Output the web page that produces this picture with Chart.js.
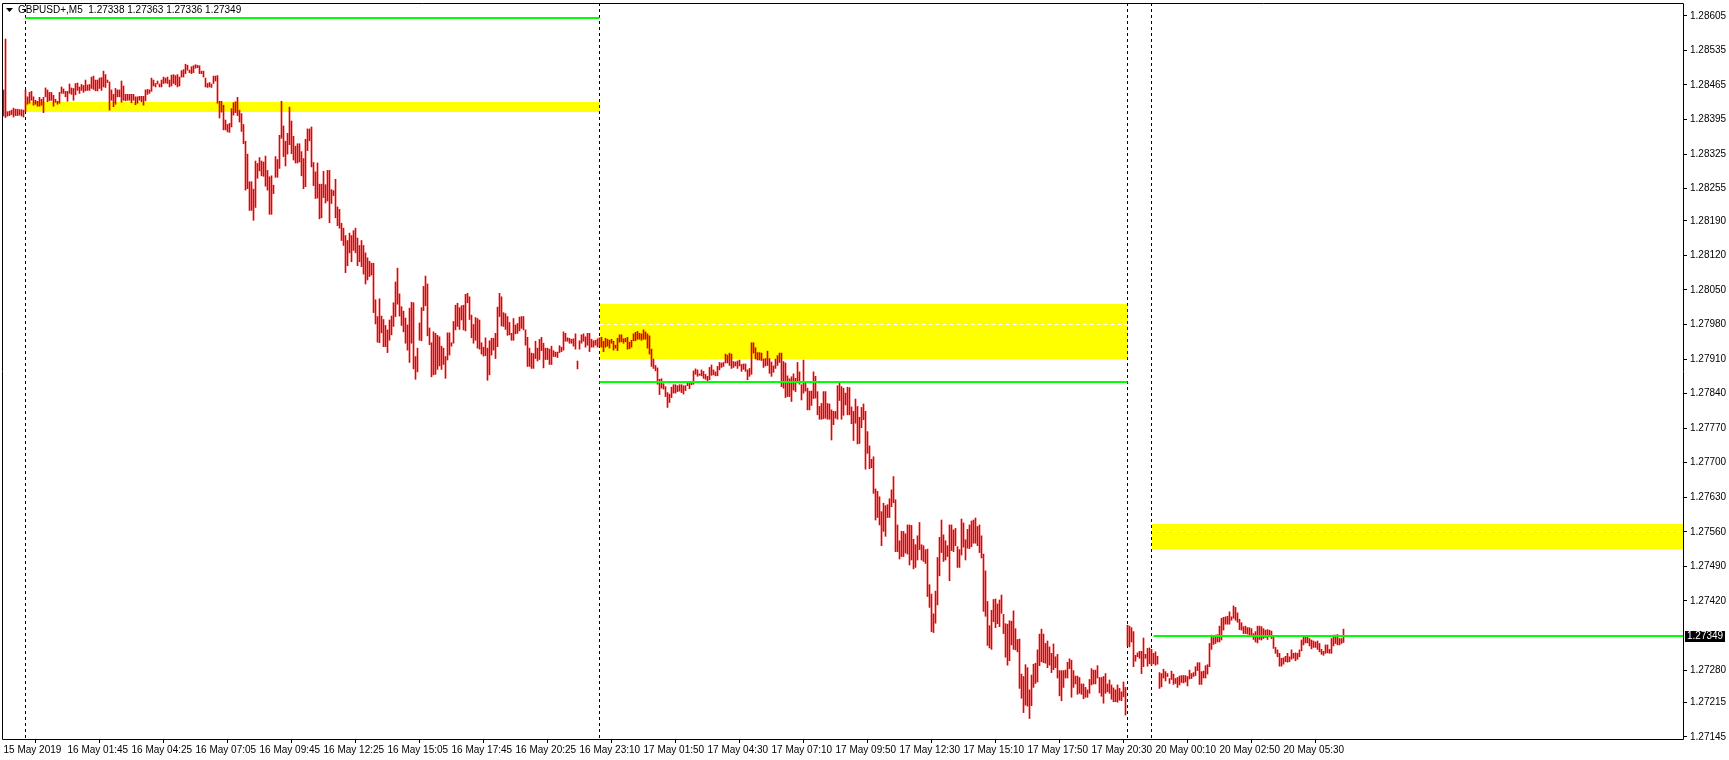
<!DOCTYPE html>
<html>
<head>
<meta charset="utf-8">
<script src="https://cdn.jsdelivr.net/npm/chart.js@4.4.1/dist/chart.umd.min.js"></script>
<style>
html, body { margin: 0; padding: 0; background: #fff; }
canvas { display: block; }
</style>
</head>
<body>
<canvas id="chart" width="1729" height="760"></canvas>
<script>
// GBPUSD+ M5 bars, 15 May 23:05 -> 20 May 08:00 (one entry per bar, high / low)
const symbol = 'GBPUSD+,M5';
const lastOHLC = [1.27338, 1.27363, 1.27336, 1.27349];

const highs = [
1.28455,1.28558,1.28411,1.28412,1.28414,1.28418,1.28416,1.28416,1.28415,1.28415,
1.28414,1.28455,1.28441,1.28450,1.28452,1.28441,1.28434,1.28432,1.28440,1.28436,
1.28440,1.28459,1.28455,1.28450,1.28450,1.28444,1.28436,1.28432,1.28450,1.28461,
1.28457,1.28452,1.28452,1.28467,1.28459,1.28458,1.28468,1.28469,1.28461,1.28466,
1.28464,1.28475,1.28465,1.28466,1.28481,1.28483,1.28475,1.28475,1.28479,1.28480,
1.28493,1.28486,1.28475,1.28471,1.28455,1.28446,1.28458,1.28455,1.28455,1.28473,
1.28463,1.28446,1.28446,1.28446,1.28446,1.28446,1.28441,1.28441,1.28442,1.28442,
1.28442,1.28455,1.28456,1.28455,1.28479,1.28475,1.28468,1.28473,1.28467,1.28475,
1.28481,1.28479,1.28481,1.28475,1.28485,1.28486,1.28484,1.28486,1.28481,1.28494,
1.28496,1.28507,1.28505,1.28495,1.28502,1.28504,1.28506,1.28505,1.28504,1.28493,
1.28493,1.28479,1.28468,1.28470,1.28467,1.28483,1.28483,1.28484,1.28432,1.28432,
1.28424,1.28394,1.28385,1.28387,1.28417,1.28429,1.28431,1.28440,1.28414,1.28407,
1.28385,1.28351,1.28325,1.28269,1.28269,1.28254,1.28311,1.28306,1.28318,1.28311,
1.28309,1.28321,1.28292,1.28279,1.28281,1.28262,1.28320,1.28314,1.28363,1.28432,
1.28382,1.28351,1.28367,1.28420,1.28392,1.28361,1.28341,1.28346,1.28346,1.28330,
1.28316,1.28355,1.28376,1.28376,1.28380,1.28308,1.28289,1.28307,1.28264,1.28264,
1.28290,1.28263,1.28292,1.28292,1.28253,1.28251,1.28274,1.28218,1.28213,1.28185,
1.28175,1.28160,1.28150,1.28165,1.28160,1.28170,1.28175,1.28155,1.28140,1.28150,
1.28140,1.28125,1.28115,1.28108,1.28104,1.28104,1.28030,1.27996,1.28032,1.27997,
1.27990,1.27978,1.27969,1.27989,1.27997,1.28024,1.28066,1.28094,1.28042,1.28016,
1.28007,1.27993,1.27979,1.28013,1.28025,1.28024,1.27915,1.27932,1.27983,1.28014,
1.28057,1.28078,1.28062,1.27973,1.27943,1.27965,1.27962,1.27958,1.27955,1.27936,
1.27932,1.27915,1.27963,1.27963,1.27943,1.27986,1.28019,1.28023,1.28014,1.28018,
1.28019,1.28041,1.28043,1.28036,1.27999,1.27980,1.27994,1.27992,1.27989,1.27943,
1.27934,1.27953,1.27932,1.27947,1.27952,1.27952,1.27962,1.28015,1.28043,1.28036,
1.28004,1.28002,1.27996,1.27984,1.27962,1.27992,1.27979,1.27982,1.27995,1.27996,
1.27996,1.27969,1.27954,1.27932,1.27922,1.27921,1.27946,1.27932,1.27950,1.27954,
1.27942,1.27932,1.27932,1.27930,1.27936,1.27927,1.27924,1.27924,1.27937,1.27934,
1.27965,1.27962,1.27953,1.27952,1.27950,1.27951,1.27961,1.27906,1.27947,1.27959,
1.27961,1.27955,1.27962,1.27962,1.27950,1.27947,1.27948,1.27951,1.27953,1.27954,
1.27946,1.27952,1.27950,1.27948,1.27950,1.27946,1.27938,1.27952,1.27959,1.27959,
1.27951,1.27952,1.27954,1.27944,1.27948,1.27961,1.27964,1.27966,1.27962,1.27961,
1.27969,1.27965,1.27961,1.27957,1.27930,1.27910,1.27897,1.27892,1.27869,1.27870,
1.27860,1.27854,1.27842,1.27839,1.27853,1.27858,1.27858,1.27856,1.27858,1.27858,
1.27856,1.27856,1.27861,1.27864,1.27864,1.27886,1.27890,1.27888,1.27880,1.27888,
1.27885,1.27879,1.27875,1.27893,1.27898,1.27888,1.27884,1.27895,1.27903,1.27902,
1.27903,1.27920,1.27918,1.27922,1.27920,1.27905,1.27904,1.27906,1.27908,1.27899,
1.27900,1.27900,1.27888,1.27891,1.27943,1.27943,1.27933,1.27923,1.27923,1.27922,
1.27910,1.27911,1.27926,1.27911,1.27904,1.27896,1.27910,1.27917,1.27922,1.27922,
1.27905,1.27902,1.27876,1.27870,1.27874,1.27880,1.27871,1.27903,1.27884,1.27858,
1.27908,1.27864,1.27851,1.27845,1.27845,1.27884,1.27875,1.27844,1.27814,1.27820,
1.27844,1.27844,1.27820,1.27819,1.27807,1.27804,1.27804,1.27856,1.27863,1.27854,
1.27851,1.27841,1.27853,1.27852,1.27813,1.27804,1.27829,1.27814,1.27792,1.27812,
1.27819,1.27804,1.27763,1.27734,1.27707,1.27712,1.27647,1.27642,1.27631,1.27601,
1.27618,1.27613,1.27615,1.27627,1.27645,1.27672,1.27625,1.27574,1.27542,1.27561,
1.27561,1.27556,1.27574,1.27574,1.27573,1.27545,1.27534,1.27552,1.27579,1.27534,
1.27532,1.27524,1.27525,1.27453,1.27434,1.27394,1.27440,1.27508,1.27549,1.27584,
1.27554,1.27542,1.27532,1.27574,1.27574,1.27564,1.27567,1.27530,1.27524,1.27586,
1.27578,1.27544,1.27565,1.27574,1.27582,1.27584,1.27588,1.27571,1.27574,1.27552,
1.27515,1.27481,1.27419,1.27370,1.27401,1.27423,1.27424,1.27414,1.27422,1.27432,
1.27393,1.27374,1.27373,1.27380,1.27379,1.27400,1.27364,1.27342,1.27343,1.27272,
1.27267,1.27291,1.27285,1.27240,1.27270,1.27292,1.27294,1.27321,1.27353,1.27363,
1.27353,1.27334,1.27339,1.27327,1.27314,1.27333,1.27307,1.27312,1.27279,1.27279,
1.27279,1.27280,1.27296,1.27303,1.27300,1.27279,1.27268,1.27268,1.27265,1.27252,
1.27252,1.27245,1.27240,1.27261,1.27283,1.27280,1.27280,1.27289,1.27265,1.27265,
1.27267,1.27273,1.27252,1.27260,1.27250,1.27244,1.27240,1.27250,1.27243,1.27236,
1.27256,1.27245,1.27371,1.27369,1.27366,1.27358,1.27310,1.27315,1.27318,1.27318,
1.27345,1.27312,1.27324,1.27325,1.27322,1.27314,1.27317,1.27308,1.27275,1.27273,
1.27282,1.27277,1.27273,1.27263,1.27278,1.27272,1.27263,1.27265,1.27268,1.27269,
1.27269,1.27269,1.27267,1.27280,1.27273,1.27275,1.27287,1.27295,1.27295,1.27277,
1.27278,1.27289,1.27291,1.27334,1.27351,1.27346,1.27351,1.27352,1.27369,1.27385,
1.27387,1.27388,1.27389,1.27398,1.27388,1.27410,1.27407,1.27396,1.27383,1.27376,
1.27368,1.27369,1.27366,1.27366,1.27364,1.27354,1.27358,1.27369,1.27369,1.27368,
1.27364,1.27361,1.27362,1.27361,1.27359,1.27348,1.27326,1.27321,1.27314,1.27304,
1.27305,1.27308,1.27314,1.27307,1.27321,1.27314,1.27315,1.27314,1.27321,1.27341,
1.27348,1.27349,1.27349,1.27344,1.27341,1.27339,1.27337,1.27339,1.27334,1.27322,
1.27318,1.27331,1.27331,1.27322,1.27344,1.27351,1.27351,1.27352,1.27344,1.27344,
1.27363
];

const lows = [
1.28402,1.28399,1.28402,1.28403,1.28405,1.28400,1.28403,1.28403,1.28404,1.28402,
1.28400,1.28411,1.28426,1.28428,1.28434,1.28424,1.28426,1.28422,1.28422,1.28424,
1.28409,1.28441,1.28431,1.28433,1.28434,1.28422,1.28430,1.28426,1.28428,1.28448,
1.28448,1.28441,1.28432,1.28448,1.28446,1.28434,1.28445,1.28454,1.28448,1.28454,
1.28450,1.28453,1.28454,1.28454,1.28458,1.28456,1.28453,1.28453,1.28458,1.28454,
1.28461,1.28460,1.28470,1.28414,1.28434,1.28421,1.28426,1.28441,1.28441,1.28430,
1.28434,1.28433,1.28434,1.28434,1.28429,1.28434,1.28425,1.28428,1.28434,1.28431,
1.28424,1.28433,1.28446,1.28448,1.28452,1.28463,1.28461,1.28467,1.28461,1.28461,
1.28468,1.28469,1.28468,1.28461,1.28463,1.28468,1.28465,1.28461,1.28463,1.28481,
1.28481,1.28488,1.28495,1.28490,1.28488,1.28490,1.28499,1.28500,1.28488,1.28488,
1.28481,1.28461,1.28460,1.28461,1.28460,1.28468,1.28473,1.28428,1.28398,1.28410,
1.28374,1.28374,1.28370,1.28369,1.28380,1.28404,1.28409,1.28403,1.28390,1.28371,
1.28346,1.28252,1.28255,1.28211,1.28211,1.28191,1.28217,1.28276,1.28291,1.28281,
1.28280,1.28260,1.28252,1.28203,1.28203,1.28245,1.28278,1.28278,1.28296,1.28357,
1.28320,1.28301,1.28325,1.28344,1.28326,1.28313,1.28307,1.28307,1.28309,1.28281,
1.28255,1.28259,1.28332,1.28352,1.28299,1.28261,1.28235,1.28236,1.28194,1.28196,
1.28237,1.28226,1.28230,1.28186,1.28225,1.28241,1.28196,1.28180,1.28175,1.28150,
1.28140,1.28085,1.28099,1.28125,1.28107,1.28130,1.28125,1.28099,1.28107,1.28097,
1.28082,1.28062,1.28070,1.28077,1.28080,1.28004,1.27981,1.27944,1.27943,1.27963,
1.27935,1.27935,1.27923,1.27948,1.27959,1.27976,1.27996,1.28021,1.27997,1.27978,
1.27965,1.27942,1.27928,1.27903,1.27942,1.27890,1.27869,1.27884,1.27948,1.27947,
1.28008,1.28018,1.27957,1.27939,1.27874,1.27878,1.27879,1.27889,1.27896,1.27889,
1.27899,1.27871,1.27908,1.27918,1.27936,1.27942,1.27969,1.27976,1.27970,1.27989,
1.27969,1.27967,1.28024,1.27990,1.27953,1.27942,1.27948,1.27932,1.27930,1.27920,
1.27916,1.27917,1.27867,1.27878,1.27918,1.27928,1.27911,1.27935,1.27996,1.27977,
1.27976,1.27970,1.27958,1.27959,1.27948,1.27948,1.27961,1.27962,1.27967,1.27972,
1.27969,1.27938,1.27895,1.27895,1.27891,1.27891,1.27911,1.27906,1.27909,1.27927,
1.27892,1.27909,1.27909,1.27899,1.27899,1.27915,1.27915,1.27913,1.27923,1.27925,
1.27928,1.27946,1.27946,1.27942,1.27942,1.27936,1.27930,1.27890,1.27930,1.27942,
1.27946,1.27934,1.27938,1.27925,1.27934,1.27934,1.27938,1.27934,1.27936,1.27934,
1.27925,1.27934,1.27936,1.27932,1.27942,1.27928,1.27932,1.27927,1.27944,1.27945,
1.27942,1.27945,1.27930,1.27931,1.27934,1.27947,1.27947,1.27950,1.27950,1.27948,
1.27950,1.27950,1.27932,1.27920,1.27895,1.27891,1.27886,1.27859,1.27838,1.27851,
1.27849,1.27834,1.27812,1.27822,1.27832,1.27841,1.27841,1.27844,1.27845,1.27842,
1.27839,1.27846,1.27856,1.27850,1.27858,1.27859,1.27879,1.27875,1.27877,1.27876,
1.27871,1.27869,1.27866,1.27868,1.27877,1.27878,1.27876,1.27876,1.27888,1.27893,
1.27895,1.27902,1.27902,1.27897,1.27891,1.27893,1.27896,1.27891,1.27896,1.27885,
1.27889,1.27885,1.27868,1.27875,1.27879,1.27922,1.27910,1.27908,1.27908,1.27907,
1.27893,1.27896,1.27897,1.27881,1.27875,1.27883,1.27891,1.27897,1.27903,1.27854,
1.27851,1.27832,1.27834,1.27834,1.27824,1.27847,1.27844,1.27862,1.27859,1.27827,
1.27841,1.27845,1.27807,1.27807,1.27816,1.27830,1.27831,1.27797,1.27788,1.27788,
1.27789,1.27790,1.27788,1.27788,1.27746,1.27777,1.27790,1.27788,1.27826,1.27788,
1.27796,1.27817,1.27797,1.27797,1.27779,1.27745,1.27780,1.27738,1.27739,1.27771,
1.27787,1.27687,1.27719,1.27688,1.27690,1.27638,1.27584,1.27589,1.27574,1.27532,
1.27561,1.27551,1.27589,1.27589,1.27611,1.27619,1.27520,1.27520,1.27505,1.27510,
1.27510,1.27517,1.27515,1.27493,1.27503,1.27485,1.27488,1.27503,1.27524,1.27503,
1.27500,1.27496,1.27429,1.27407,1.27358,1.27356,1.27375,1.27412,1.27471,1.27518,
1.27500,1.27503,1.27510,1.27461,1.27522,1.27520,1.27532,1.27488,1.27488,1.27513,
1.27529,1.27503,1.27527,1.27526,1.27530,1.27537,1.27537,1.27532,1.27518,1.27507,
1.27399,1.27389,1.27330,1.27325,1.27322,1.27378,1.27366,1.27374,1.27368,1.27395,
1.27354,1.27306,1.27290,1.27299,1.27331,1.27322,1.27321,1.27317,1.27243,1.27223,
1.27194,1.27209,1.27207,1.27182,1.27208,1.27245,1.27253,1.27256,1.27289,1.27297,
1.27295,1.27294,1.27285,1.27290,1.27275,1.27281,1.27285,1.27264,1.27228,1.27218,
1.27245,1.27264,1.27264,1.27283,1.27225,1.27245,1.27252,1.27231,1.27233,1.27231,
1.27222,1.27225,1.27225,1.27233,1.27250,1.27252,1.27252,1.27264,1.27234,1.27227,
1.27213,1.27233,1.27236,1.27233,1.27221,1.27216,1.27216,1.27215,1.27219,1.27218,
1.27226,1.27189,1.27329,1.27327,1.27337,1.27287,1.27298,1.27307,1.27304,1.27273,
1.27287,1.27304,1.27288,1.27293,1.27290,1.27293,1.27290,1.27292,1.27243,1.27246,
1.27264,1.27258,1.27267,1.27253,1.27261,1.27251,1.27253,1.27245,1.27250,1.27255,
1.27254,1.27256,1.27248,1.27262,1.27263,1.27267,1.27269,1.27279,1.27251,1.27251,
1.27264,1.27264,1.27272,1.27287,1.27322,1.27332,1.27334,1.27337,1.27337,1.27341,
1.27361,1.27373,1.27373,1.27373,1.27381,1.27385,1.27381,1.27377,1.27362,1.27361,
1.27354,1.27354,1.27353,1.27349,1.27348,1.27342,1.27337,1.27335,1.27342,1.27341,
1.27344,1.27346,1.27342,1.27348,1.27344,1.27324,1.27314,1.27307,1.27288,1.27288,
1.27292,1.27297,1.27296,1.27297,1.27302,1.27304,1.27299,1.27302,1.27307,1.27319,
1.27331,1.27335,1.27335,1.27329,1.27323,1.27326,1.27326,1.27322,1.27317,1.27312,
1.27310,1.27314,1.27315,1.27314,1.27314,1.27329,1.27334,1.27331,1.27331,1.27334,
1.27336
];

// time axis: bar index of each labelled tick
const timeTickBars = [0, 32, 64, 96, 128, 160, 192, 224, 256, 288, 320, 352, 384, 416, 448, 480, 512, 544, 576, 608, 640];
const timeTickLabels = ['15 May 2019', '16 May 01:45', '16 May 04:25', '16 May 07:05', '16 May 09:45', '16 May 12:25',
  '16 May 15:05', '16 May 17:45', '16 May 20:25', '16 May 23:10', '17 May 01:50', '17 May 04:30', '17 May 07:10',
  '17 May 09:50', '17 May 12:30', '17 May 15:10', '17 May 17:50', '17 May 20:30', '20 May 00:10', '20 May 02:50', '20 May 05:30'];

const priceTicks = [1.28605, 1.28535, 1.28465, 1.28395, 1.28325, 1.28255, 1.28190, 1.28120, 1.28050, 1.27980, 1.27910,
  1.27840, 1.27770, 1.27700, 1.27630, 1.27560, 1.27490, 1.27420, 1.27280, 1.27215, 1.27145];
const priceMin = 1.271405;
const priceMax = 1.28631;

// day separators (first bar of each day)
const daySeparators = [11, 298, 562, 574];

// yellow zones
const zoneStart = [11, 298, 574];
const zoneEnd = [298, 562, 839.75];
const zoneLow = [1.28411, 1.27911, 1.27526];
const zoneHigh = [1.28430, 1.28021, 1.27576];
const zoneMid = [null, 1.27981, 1.27561];

// green horizontal levels
const levelStart = [11, 298, 575];
const levelEnd = [298, 562, 839.75];
const levelPrice = [1.28601, 1.27864, 1.27349];

const FONT = '"Liberation Sans", Arial, sans-serif';

const overlay = {
  id: 'overlay',
  beforeDraw(chart) {
    const ctx = chart.ctx;
    ctx.save();
    ctx.fillStyle = '#fff';
    ctx.fillRect(0, 0, chart.width, chart.height);
    ctx.restore();
  },
  beforeDatasetsDraw(chart) {
    const { ctx, chartArea: a, scales: { x, y } } = chart;
    ctx.save();
    ctx.beginPath();
    ctx.rect(a.left, a.top, a.right - a.left, a.bottom - a.top);
    ctx.clip();
    for (let k = 0; k < zoneStart.length; k++) {
      const x0 = x.getPixelForValue(zoneStart[k]);
      const x1 = x.getPixelForValue(zoneEnd[k]);
      const y0 = y.getPixelForValue(zoneHigh[k]);
      const y1 = y.getPixelForValue(zoneLow[k]);
      ctx.fillStyle = '#ffff00';
      ctx.fillRect(Math.round(x0), Math.round(y0), Math.round(x1) - Math.round(x0), Math.round(y1) - Math.round(y0));
      if (zoneMid[k] !== null) {
        const ym = Math.round(y.getPixelForValue(zoneMid[k])) + 0.5;
        ctx.strokeStyle = '#ffffff';
        ctx.lineWidth = 1;
        ctx.setLineDash([4, 3]);
        ctx.beginPath();
        ctx.moveTo(x0, ym);
        ctx.lineTo(x1, ym);
        ctx.stroke();
      }
    }
    // separators drawn like an XOR pen: black on white, blue on yellow
    ctx.globalCompositeOperation = 'difference';
    ctx.strokeStyle = '#ffffff';
    ctx.lineWidth = 1;
    ctx.setLineDash([3, 3]);
    daySeparators.forEach(b => {
      const px = Math.floor(x.getPixelForValue(b)) + 0.5;
      ctx.beginPath();
      ctx.moveTo(px, a.top);
      ctx.lineTo(px, a.bottom);
      ctx.stroke();
    });
    ctx.restore();
  },
  afterDatasetsDraw(chart) {
    const { ctx, chartArea: a, scales: { x, y } } = chart;
    ctx.save();
    ctx.strokeStyle = '#00ff00';
    ctx.lineWidth = 2;
    for (let k = 0; k < levelPrice.length; k++) {
      const py = Math.round(y.getPixelForValue(levelPrice[k]));
      ctx.beginPath();
      ctx.moveTo(x.getPixelForValue(levelStart[k]), py);
      ctx.lineTo(x.getPixelForValue(levelEnd[k]), py);
      ctx.stroke();
    }
    // frame
    ctx.strokeStyle = '#000';
    ctx.lineWidth = 1;
    ctx.beginPath();
    ctx.moveTo(a.left + 0.5, a.top + 0.5);
    ctx.lineTo(a.right + 0.5, a.top + 0.5);
    ctx.lineTo(a.right + 0.5, a.bottom + 0.5);
    ctx.lineTo(a.left + 0.5, a.bottom + 0.5);
    ctx.closePath();
    ctx.stroke();
    ctx.restore();
  },
  afterDraw(chart) {
    const { ctx, chartArea: a, scales: { y } } = chart;
    ctx.save();
    // header
    ctx.fillStyle = '#000';
    ctx.beginPath();
    ctx.moveTo(6, 8);
    ctx.lineTo(13, 8);
    ctx.lineTo(9.5, 12);
    ctx.closePath();
    ctx.fill();
    ctx.font = '10px ' + FONT;
    ctx.textBaseline = 'middle';
    ctx.textAlign = 'left';
    ctx.fillText(symbol + '  ' + lastOHLC.map(v => v.toFixed(5)).join(' '), 18, 10.5);
    // current price tag
    const py = Math.round(y.getPixelForValue(lastOHLC[3]));
    ctx.fillStyle = '#000';
    ctx.fillRect(a.right + 2, py - 5, 40, 11);
    ctx.fillStyle = '#fff';
    ctx.fillText(lastOHLC[3].toFixed(5), a.right + 4, py + 0.5);
    ctx.restore();
  }
};

function noPad(s) {
  s.paddingTop = 0;
  s.paddingBottom = 0;
  s.paddingLeft = 0;
  s.paddingRight = 0;
}

const ctx = document.getElementById('chart').getContext('2d');
const chart = new Chart(ctx, {
  type: 'bar',
  data: {
    datasets: [{
      data: highs.map((h, i) => ({ x: i, y: [lows[i], h] })),
      backgroundColor: '#e60000',
      borderWidth: 0,
      barThickness: 1,
      grouped: false
    }]
  },
  options: {
    responsive: false,
    animation: false,
    devicePixelRatio: 1,
    layout: { padding: { left: 2, top: 3, right: 0, bottom: 0 } },
    plugins: { legend: { display: false }, tooltip: { enabled: false } },
    scales: {
      x: {
        type: 'linear',
        position: 'bottom',
        min: -0.75,
        max: 839.75,
        offset: false,
        border: { display: false },
        grid: { drawOnChartArea: false, drawTicks: true, tickLength: 4, color: '#000' },
        afterBuildTicks: s => { s.ticks = timeTickBars.map(v => ({ value: v })); },
        afterFit: s => { s.height = 21; noPad(s); },
        ticks: {
          autoSkip: false,
          maxRotation: 0,
          minRotation: 0,
          align: 'start',
          padding: 1,
          color: '#000',
          font: { family: FONT, size: 10 },
          callback: (v, i) => timeTickLabels[i]
        }
      },
      y: {
        position: 'right',
        min: priceMin,
        max: priceMax,
        border: { display: false },
        grid: { drawOnChartArea: false, drawTicks: true, tickLength: 4, color: '#000' },
        afterBuildTicks: s => { s.ticks = priceTicks.map(v => ({ value: v })); },
        afterFit: s => { s.width = 46; noPad(s); },
        ticks: {
          padding: 3,
          color: '#000',
          font: { family: FONT, size: 10 },
          callback: v => v.toFixed(5)
        }
      }
    }
  },
  plugins: [overlay]
});
</script>
</body>
</html>
